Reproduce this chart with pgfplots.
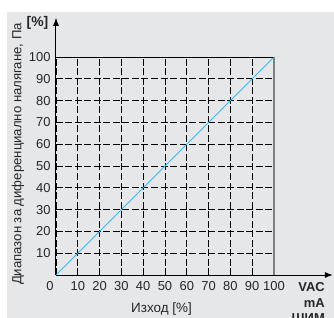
\documentclass[border=0pt]{standalone}
\usepackage{pgfplots}
\pgfplotsset{compat=1.18}
\usetikzlibrary{arrows.meta}
\usepackage{fontspec}
\setmainfont{Liberation Sans}
\definecolor{bggrey}{HTML}{E6E7E9}
\definecolor{lineblue}{HTML}{4DB6D8}
\definecolor{txt}{HTML}{262626}
\begin{document}
\begin{tikzpicture}[x=1bp,y=1bp]
\useasboundingbox (-56,-43) rectangle (278,275);
\fill[white] (-56,-43) rectangle (278,275);
\fill[bggrey] (-49,-43) rectangle (278,263);
\begin{axis}[at={(0,0)}, anchor=south west, scale only axis,
  width=218bp, height=218bp,
  xmin=0, xmax=100, ymin=0, ymax=100,
  axis line style={draw=none},
  clip=false,
  xtick={10,20,...,100}, ytick={10,20,...,100},
  extra x ticks={0},
  extra x tick style={xticklabel style={xshift=-6bp}},
  major tick length=0pt,
  grid=major,
  grid style={black, line width=0.7bp, dash pattern=on 7bp off 2.5bp},
  tick label style={font=\fontsize{13}{15}\selectfont, text=txt},
  xticklabel style={yshift=-3bp},
  yticklabel style={xshift=-2bp},
  /pgf/number format/assume math mode=true,
]
\addplot[color=lineblue, line width=1bp] coordinates {(0,0) (100,100)};
\draw[black, line width=0.8bp] (axis cs:0,100) -- (axis cs:100,100);
\draw[gray, line width=1.5bp] (axis cs:100,0) -- (axis cs:100,100);
\draw[black, line width=1bp, -{Latex[length=8bp,width=6bp]}] (axis cs:0,0) -- (axis cs:127,0);
\draw[black, line width=1bp, -{Latex[length=8bp,width=6bp]}] (axis cs:0,0) -- (axis cs:0,118);
\end{axis}
\node[rotate=90, text=txt, font=\fontsize{13.2}{15}\selectfont] at (-38,121) {Диапазон за диференциално налягане, Па};
\node[text=txt, font=\fontsize{13.5}{15}\selectfont] at (105.5,-34) {Изход [\%]};
\node[text=txt, font=\bfseries\fontsize{14}{16}\selectfont] at (-18.5,252) {[\%]};
\node[text=txt, anchor=east, inner sep=0pt, font=\bfseries\fontsize{13}{15}\selectfont] at (269,-12) {VAC};
\node[text=txt, anchor=east, inner sep=0pt, font=\bfseries\fontsize{13}{15}\selectfont] at (269,-28) {mA};
\node[text=txt, anchor=east, inner sep=0pt, font=\bfseries\fontsize{13}{15}\selectfont] at (269,-43) {ШИМ};
\end{tikzpicture}
\end{document}
